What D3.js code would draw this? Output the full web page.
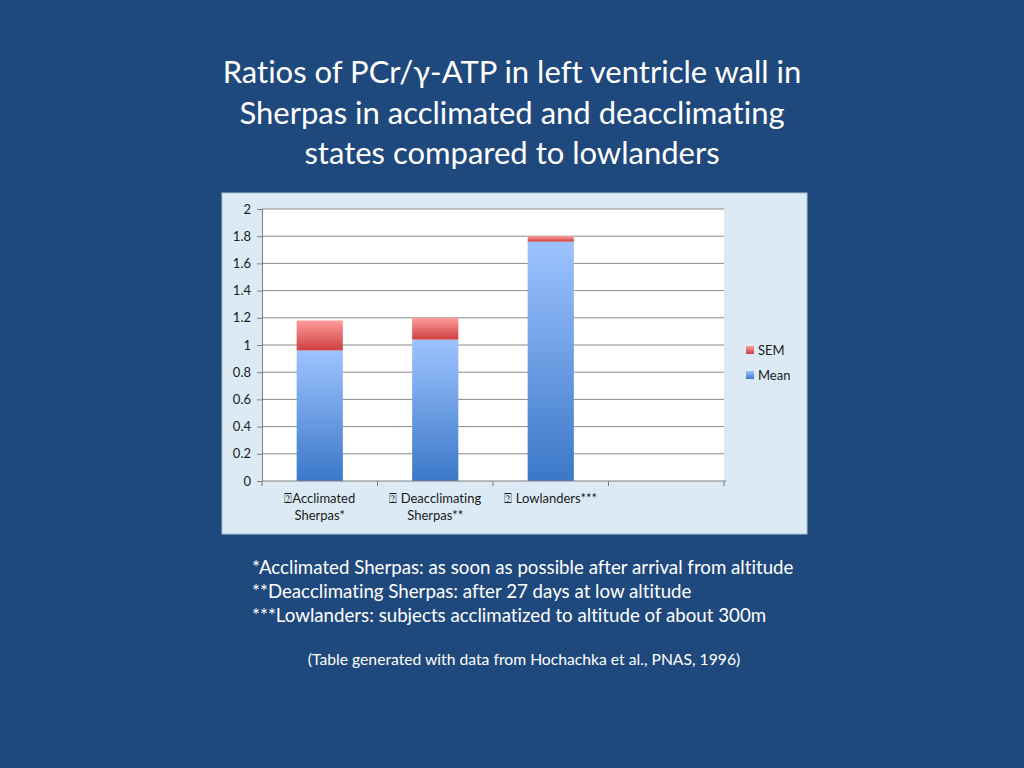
<!DOCTYPE html>
<html>
<head>
<meta charset="utf-8">
<script src="https://cdn.jsdelivr.net/npm/d3@7"></script>
<style>
  body { margin: 0; background: #1f497d; }
  svg { display: block; }
  text { font-variant-ligatures: none; }
</style>
</head>
<body>
<script>
const categories = ['\u2370Acclimated|Sherpas*', '\u2370 Deacclimating|Sherpas**', '\u2370 Lowlanders***', ''];
const meanValues = [0.96, 1.04, 1.76, null];
const semValues = [0.22, 0.16, 0.04, null];
const yTicks = [0, 0.2, 0.4, 0.6, 0.8, 1, 1.2, 1.4, 1.6, 1.8, 2];
const titleLines = [
  'Ratios of PCr/\u03b3-ATP in left ventricle wall in',
  'Sherpas in acclimated and deacclimating',
  'states compared to lowlanders'
];
const notes = [
  '*Acclimated Sherpas: as soon as possible after arrival from altitude',
  '**Deacclimating Sherpas: after 27 days at low altitude',
  '***Lowlanders: subjects acclimatized to altitude of about 300m'
];
const source = '(Table generated with data from Hochachka et al., PNAS, 1996)';

const width = 1024, height = 768;
const font = 'Lato, "Open Sans", sans-serif';

const svg = d3.select('body').append('svg')
  .attr('width', width)
  .attr('height', height);

svg.append('rect').attr('width', width).attr('height', height).attr('fill', '#1f497d');

let defs = svg.append('defs');
let gMean = defs.append('linearGradient').attr('id', 'gMean').attr('x1', 0).attr('x2', 0).attr('y1', 0).attr('y2', 1);
gMean.append('stop').attr('offset', '0%').attr('stop-color', '#9dc3ff');
gMean.append('stop').attr('offset', '100%').attr('stop-color', '#3b78c8');
let gSem = defs.append('linearGradient').attr('id', 'gSem').attr('x1', 0).attr('x2', 0).attr('y1', 0).attr('y2', 1);
gSem.append('stop').attr('offset', '0%').attr('stop-color', '#ff9c9c');
gSem.append('stop').attr('offset', '100%').attr('stop-color', '#cf3f3f');

// title
svg.append('g').selectAll('text')
  .data(titleLines)
  .join('text')
  .attr('x', 512)
  .attr('y', (d, i) => 83 + i * 40.5)
  .attr('text-anchor', 'middle')
  .attr('fill', 'white')
  .style('font-family', font)
  .style('font-size', '31px')
  .text(d => d);

// chart panel
svg.append('rect')
  .attr('x', 222).attr('y', 193)
  .attr('width', 585).attr('height', 341)
  .attr('fill', '#dbeaf4')
  .attr('stroke', '#a9c4dc')
  .attr('stroke-width', 1);

const margin = {left: 262, top: 209, right: 724, bottom: 481};

const x = d3.scaleBand()
  .domain(d3.range(categories.length))
  .range([margin.left, margin.right])
  .paddingInner(0.6)
  .paddingOuter(0.3);

const y = d3.scaleLinear().domain([0, 2]).range([margin.bottom, margin.top]);

svg.append('rect')
  .attr('x', margin.left).attr('y', margin.top)
  .attr('width', margin.right - margin.left).attr('height', margin.bottom - margin.top)
  .attr('fill', 'white');

// gridlines
svg.append('g')
  .selectAll('line')
  .data(yTicks.filter(d => d > 0))
  .join('line')
  .attr('x1', margin.left).attr('x2', margin.right)
  .attr('y1', d => y(d)).attr('y2', d => y(d))
  .attr('stroke', '#8a8a8a')
  .attr('stroke-width', 1);

// bars
const rows = d3.range(categories.length).filter(i => meanValues[i] != null);
let bars = svg.append('g');
bars.selectAll('rect.mean')
  .data(rows)
  .join('rect')
  .attr('class', 'mean')
  .attr('x', i => x(i))
  .attr('width', x.bandwidth())
  .attr('y', i => y(meanValues[i]))
  .attr('height', i => y(0) - y(meanValues[i]))
  .attr('fill', 'url(#gMean)');
bars.selectAll('rect.sem')
  .data(rows)
  .join('rect')
  .attr('class', 'sem')
  .attr('x', i => x(i))
  .attr('width', x.bandwidth())
  .attr('y', i => y(meanValues[i] + semValues[i]))
  .attr('height', i => y(meanValues[i]) - y(meanValues[i] + semValues[i]))
  .attr('fill', 'url(#gSem)');

// y axis
let yAxis = svg.append('g')
  .attr('transform', `translate(${margin.left},0)`)
  .call(d3.axisLeft(y).tickValues(yTicks).tickSize(5).tickPadding(6).tickFormat(d3.format('~g')));
yAxis.select('.domain').attr('stroke', '#7f7f7f');
yAxis.selectAll('.tick line').attr('stroke', '#7f7f7f');
yAxis.selectAll('text').style('font-family', font).style('font-size', '13px').attr('fill', '#1a1a1a');

// x axis
let xAxis = svg.append('g')
  .attr('transform', `translate(0,${margin.bottom})`);
xAxis.append('line')
  .attr('x1', margin.left).attr('x2', margin.right + 2)
  .attr('stroke', '#7f7f7f');
const step = x.step();
const edges = d3.range(categories.length + 1).map(i => x(0) - x.paddingInner() * step / 2 + i * step);
xAxis.selectAll('line.tk')
  .data(edges)
  .join('line')
  .attr('class', 'tk')
  .attr('x1', d => d).attr('x2', d => d)
  .attr('y1', 0).attr('y2', 5)
  .attr('stroke', '#7f7f7f');
xAxis.selectAll('text')
  .data(categories.slice(0, 3))
  .join('text')
  .attr('x', (d, i) => x(i) + x.bandwidth() / 2)
  .attr('y', 22)
  .attr('text-anchor', 'middle')
  .attr('fill', '#1a1a1a')
  .style('font-family', font)
  .style('font-size', '13px')
  .each(function(d) {
    d.split('|').forEach((part, k) => {
      d3.select(this).append('tspan')
        .attr('x', d3.select(this).attr('x'))
        .attr('dy', k === 0 ? 0 : 17)
        .text(part);
    });
  });

// legend
const legend = [{name: 'SEM', fill: 'url(#gSem)'}, {name: 'Mean', fill: 'url(#gMean)'}];
let lg = svg.append('g').selectAll('g')
  .data(legend)
  .join('g')
  .attr('transform', (d, i) => `translate(746,${346 + i * 25})`);
lg.append('rect').attr('width', 8).attr('height', 8).attr('fill', d => d.fill);
lg.append('text')
  .attr('x', 12).attr('y', 9)
  .attr('fill', '#1a1a1a')
  .style('font-family', font)
  .style('font-size', '13px')
  .text(d => d.name);

// notes
svg.append('g').selectAll('text')
  .data(notes)
  .join('text')
  .attr('x', 252)
  .attr('y', (d, i) => 574 + i * 24)
  .attr('fill', 'white')
  .style('font-family', font)
  .style('font-size', '18.7px')
  .text(d => d);

svg.append('text')
  .attr('x', 524).attr('y', 665)
  .attr('text-anchor', 'middle')
  .attr('fill', 'white')
  .style('font-family', font)
  .style('font-size', '15.7px')
  .text(source);
</script>
</body>
</html>
